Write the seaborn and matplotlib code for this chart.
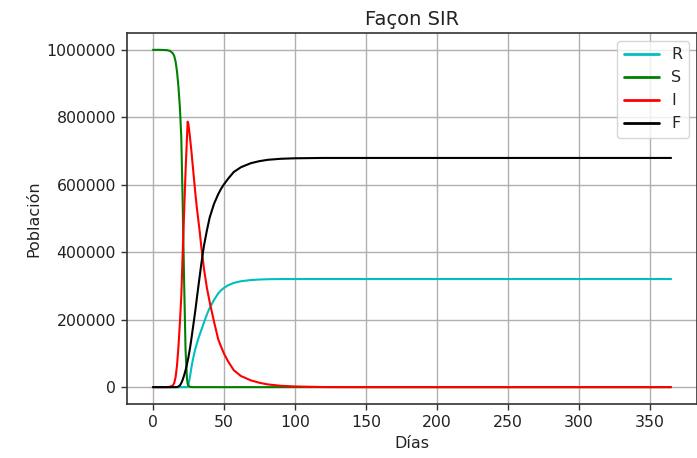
import numpy as np
import pandas as pd
import matplotlib
matplotlib.use("Agg")
import matplotlib.pyplot as plt
import seaborn as sns

# ---- data ----
days = [0, 5, 10, 12, 14, 15, 16, 17, 18, 19, 20, 21, 22, 23, 24, 24.5,
        25, 26, 27, 28, 29, 30, 31, 32, 33, 34, 35, 36,
        38, 40, 43, 46, 48, 50, 53, 57, 62, 69, 75, 81, 90, 100, 120, 150,
        200, 250, 300, 365]

S = [1000000, 1000000, 999000, 997000, 990000, 982000, 965000, 935000, 890000, 830000,
     740000, 540000, 310000, 110000, 25000, 10000,
     4000, 1000, 300, 0, 0, 0, 0, 0, 0, 0, 0, 0,
     0, 0, 0, 0, 0, 0, 0, 0, 0, 0, 0, 0, 0, 0, 0, 0,
     0, 0, 0, 0]

I = [1, 5, 200, 1000, 5000, 12000, 30000, 65000, 120000, 190000,
     270000, 400000, 520000, 640000, 740000, 787000,
     780000, 745000, 705000, 660000, 615000, 570000, 530000, 495000, 460000, 420000,
     385000, 350000,
     295000, 252000, 195000, 142000, 120000, 100000, 76000, 50000, 33000, 20000,
     13000, 8000, 4000, 2000, 300, 0,
     0, 0, 0, 0]

R = [0, 0, 0, 0, 0, 0, 0, 0, 0, 0, 0, 0, 0, 0, 0, 1000,
     6000, 28000, 55000, 78000, 98000, 115000, 130000, 144000, 156000, 168000,
     180000, 192000,
     215000, 235000, 258000, 278000, 287000, 294000, 302000, 309000, 314000, 317500,
     319000, 320000, 320400, 320500, 320500, 320500,
     320500, 320500, 320500, 320500]

F = [0, 0, 0, 0, 0, 0, 0, 0, 2000, 5000, 12000, 22000, 35000, 50000, 68000, 78000,
     88000, 112000, 140000, 170000, 200000, 231000, 265000, 298000, 330000, 362000,
     393000, 420000,
     464000, 503000, 543000, 572000, 588000, 601000, 618000, 638000, 652000, 664000,
     670000, 674000, 677000, 678500, 679500, 679500,
     679500, 679500, 679500, 679500]

series_order = ["R", "S", "I", "F"]
series_colors = {"R": "c", "S": "g", "I": "r", "F": "k"}

frames = []
for name, vals in zip(["R", "S", "I", "F"], [R, S, I, F]):
    frames.append(pd.DataFrame({"Días": days, "Población": vals, "serie": name}))
df = pd.concat(frames, ignore_index=True)

sns.set_style("ticks", {"axes.grid": True, "grid.color": "#b0b0b0",
                        "axes.edgecolor": "#333333", "xtick.color": "#333333",
                        "ytick.color": "#333333"})
plt.rcParams["font.family"] = ["DejaVu Sans"]

fig = plt.figure(figsize=(6.97, 4.58), dpi=100)
ax = fig.add_axes([0.1822, 0.1179, 0.8178, 0.8101])

sns.lineplot(data=df, x="Días", y="Población", hue="serie", hue_order=series_order,
             palette=series_colors, linewidth=1.5, ax=ax, estimator=None)

ax.set_xticks([0, 50, 100, 150, 200, 250, 300, 350])
ax.set_yticks([0, 200000, 400000, 600000, 800000, 1000000])
ax.ticklabel_format(style="plain", axis="y")
ax.tick_params(labelsize=11.3, length=4.5, width=1, colors="#333333", labelcolor="#222222")
ax.set_xlabel("Días", fontsize=11.5, color="#222222")
ax.set_ylabel("Población", fontsize=11.5, color="#222222")
ax.set_title("Façon SIR", fontsize=14, color="#222222")
ax.grid(True, color="#b0b0b0", linewidth=1.0)
for sp in ax.spines.values():
    sp.set_linewidth(1.2)
    sp.set_color("#333333")

leg = ax.legend(loc="upper right", fontsize=11.5, frameon=True, title=None,
                handlelength=2.2)
for line in leg.get_lines():
    line.set_linewidth(2.0)

fig.savefig("out.png", dpi=100)
